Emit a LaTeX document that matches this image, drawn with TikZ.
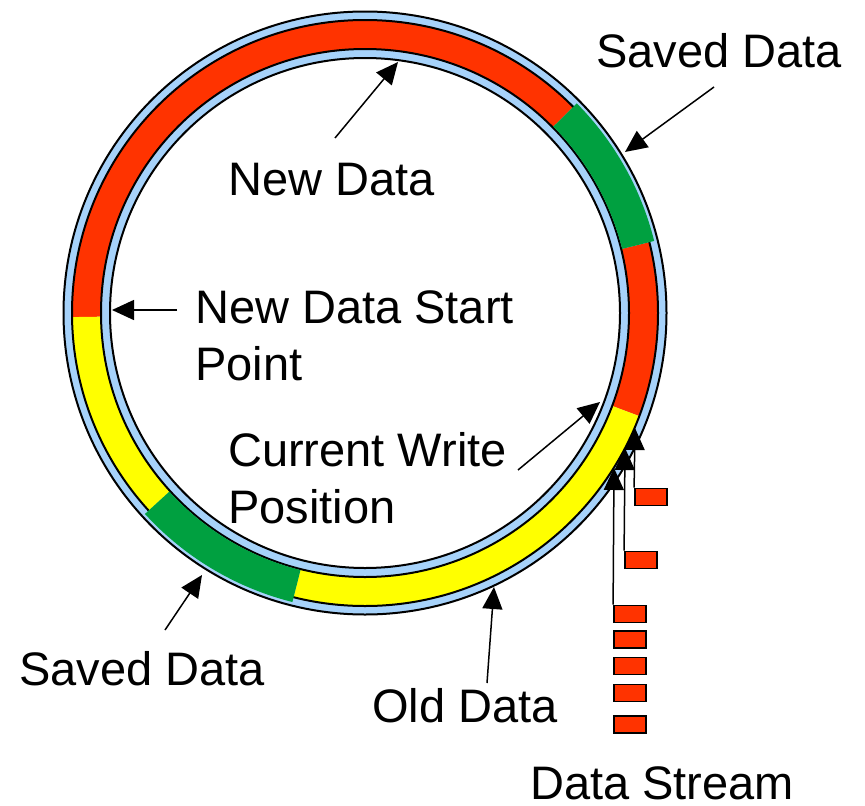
\documentclass[tikz,border=0pt]{standalone}
\usepackage{fontspec}
\setmainfont{Liberation Sans}
\usetikzlibrary{arrows.meta}
\definecolor{ringblue}{RGB}{166,210,250}
\definecolor{segred}{RGB}{255,51,0}
\definecolor{segyellow}{RGB}{255,255,0}
\definecolor{seggreen}{RGB}{0,160,64}
\newcommand\ringseg[5]{%
  \fill[#1] (#2:#5) arc[start angle=#2, end angle=#3, radius=#5] -- (#3:#4) arc[start angle=#3, end angle=#2, radius=#4] -- cycle;}
\begin{document}
\begin{tikzpicture}[x=1pt,y=1pt,
  lbl/.style={anchor=base west, inner sep=0pt, align=left, font=\fontsize{47}{56.5}\selectfont},
  ptr/.style={line width=1.5pt, -{Triangle[length=22pt,width=20pt]}},
  pkt/.style={draw=black, line width=1.8pt, fill=segred, minimum width=32pt, minimum height=17pt, inner sep=0pt},
  ringline/.style={draw=black, line width=2pt}]
\useasboundingbox (0,0) rectangle (865,-806);
\coordinate (C) at (365,-313);
\begin{scope}[shift={(C)}]
  \fill[ringblue, even odd rule] (0,0) circle (301.5) (0,0) circle (255);
  \ringseg{segred}{-20.6}{14}{264}{293}
  \ringseg{segred}{44.7}{180.8}{264}{293}
  \ringseg{segyellow}{180.8}{222.4}{264}{293}
  \ringseg{segyellow}{255.9}{339.4}{264}{293}
  \draw[ringline] (0,0) circle (301.5);
  \draw[ringline] (0,0) circle (293);
  \draw[ringline] (0,0) circle (264);
  \draw[ringline] (0,0) circle (255);
  \ringseg{seggreen}{14}{44.7}{265}{298}
  \ringseg{seggreen}{222.4}{255.9}{265}{298}
\end{scope}

% labels (base = baseline of the last line)
\node[lbl] (tSavedTR) at (596,-67) {Saved Data};
\node[lbl] (tNew) at (228,-195) {New Data};
\node[lbl] (tStart) at (195,-380) {New Data Start\\Point};
\node[lbl] (tCur) at (228,-523) {Current Write\\Position};
\node[lbl] (tSavedLL) at (19,-685) {Saved Data};
\node[lbl] (tOld) at (372,-722) {Old Data};
\node[lbl] (tStream) at (530,-799) {Data Stream};

% label pointers
\coordinate (aNewT) at (335,-138);  \coordinate (aNewH) at (398,-62);
\coordinate (aStartT) at (177,-310); \coordinate (aStartH) at (112,-310);
\coordinate (aSavTRT) at (714,-87); \coordinate (aSavTRH) at (625,-152);
\coordinate (aSavLLT) at (165,-630); \coordinate (aSavLLH) at (202,-575);
\coordinate (aOldT) at (487,-683);  \coordinate (aOldH) at (494,-587);
\coordinate (aCurT) at (518,-470);  \coordinate (aCurH) at (600,-402);
\draw[ptr] (aNewT) -- (aNewH);
\draw[ptr] (aStartT) -- (aStartH);
\draw[ptr] (aSavTRT) -- (aSavTRH);
\draw[ptr] (aSavLLT) -- (aSavLLH);
\draw[ptr] (aOldT) -- (aOldH);
\draw[ptr] (aCurT) -- (aCurH);

% data stream
\node[pkt] (pA) at (651,-497) {};
\node[pkt] (pB) at (641,-560) {};
\node[pkt] (pC1) at (630,-614) {};
\node[pkt] (pC2) at (630,-639.5) {};
\node[pkt] (pC3) at (630,-666) {};
\node[pkt] (pC4) at (630,-693) {};
\node[pkt] (pC5) at (630,-724.5) {};
\coordinate (hA) at (635,-428);
\coordinate (hB) at (625,-448);
\coordinate (hC) at (614,-468);
\draw[ptr] (pA.north west) -- (hA);
\draw[ptr] (pB.north west) -- (hB);
\draw[ptr] (pC1.north west) -- (hC);
\node[pkt] at (pA) {};
\node[pkt] at (pB) {};
\node[pkt] at (pC1) {};
\end{tikzpicture}
\end{document}
